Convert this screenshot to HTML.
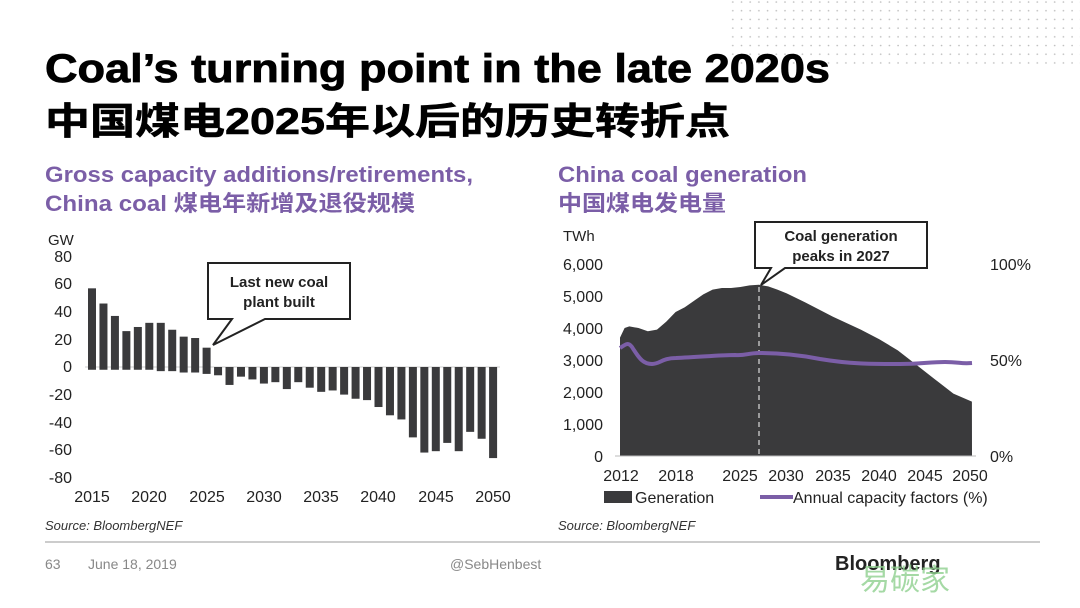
<!DOCTYPE html>
<html><head><meta charset="utf-8"><style>
body{margin:0;background:#fff;}
svg{display:block;}
text{font-family:"Liberation Sans","Noto Sans CJK SC",sans-serif;}
</style></head><body>
<svg width="1080" height="608" viewBox="0 0 1080 608" xmlns="http://www.w3.org/2000/svg">
<defs><pattern id="dots" width="8.7" height="8.7" patternUnits="userSpaceOnUse"><circle cx="2" cy="2" r="0.8" fill="#bbb"/></pattern></defs>
<rect x="728" y="0" width="352" height="64" fill="url(#dots)"/>
<text x="45" y="82" font-size="40" font-weight="bold" fill="#000" stroke="#000" stroke-width="0.8" textLength="785" lengthAdjust="spacingAndGlyphs">Coal’s turning point in the late 2020s</text>
<text x="45" y="134" font-size="37" font-weight="bold" fill="#000" stroke="#000" stroke-width="0.6" textLength="685" lengthAdjust="spacingAndGlyphs">中国煤电2025年以后的历史转折点</text>
<g font-size="22" font-weight="bold" fill="#7b5ea7">
<text x="45" y="182" textLength="428" lengthAdjust="spacingAndGlyphs">Gross capacity additions/retirements,</text>
<text x="45" y="211" textLength="370" lengthAdjust="spacingAndGlyphs">China coal 煤电年新增及退役规模</text>
<text x="558" y="182" textLength="249" lengthAdjust="spacingAndGlyphs">China coal generation</text>
<text x="558" y="211" textLength="168" lengthAdjust="spacingAndGlyphs">中国煤电发电量</text>
</g>
<!-- Left chart -->
<g font-size="16" fill="#222">
<text x="48" y="245" font-size="15">GW</text>
<g text-anchor="end">
<text x="72" y="262">80</text><text x="72" y="289">60</text><text x="72" y="317">40</text><text x="72" y="345">20</text><text x="72" y="372">0</text><text x="72" y="400">-20</text><text x="72" y="428">-40</text><text x="72" y="455">-60</text><text x="72" y="483">-80</text>
</g>
<g text-anchor="middle">
<text x="92" y="502">2015</text><text x="149" y="502">2020</text><text x="207" y="502">2025</text><text x="264" y="502">2030</text><text x="321" y="502">2035</text><text x="378" y="502">2040</text><text x="436" y="502">2045</text><text x="493" y="502">2050</text>
</g>
</g>
<line x1="85" y1="367" x2="500" y2="367" stroke="#ccc" stroke-width="1"/>
<g id="bars" fill="#3a3a3c"></g>
<path d="M208,263 H350 V319 H265 L213,345 L232,319 H208 Z" fill="#fff" stroke="#222" stroke-width="2"/>
<text x="279" y="287" font-size="15" font-weight="bold" text-anchor="middle" fill="#222">Last new coal</text>
<text x="279" y="307" font-size="15" font-weight="bold" text-anchor="middle" fill="#222">plant built</text>
<text x="45" y="530" font-size="13" font-style="italic" fill="#333">Source: BloombergNEF</text>
<!-- Right chart -->
<g font-size="16" fill="#222">
<text x="563" y="241" font-size="15">TWh</text>
<g text-anchor="end">
<text x="603" y="270">6,000</text><text x="603" y="302">5,000</text><text x="603" y="334">4,000</text><text x="603" y="366">3,000</text><text x="603" y="398">2,000</text><text x="603" y="430">1,000</text><text x="603" y="462">0</text>
</g>
<text x="990" y="270">100%</text><text x="990" y="366">50%</text><text x="990" y="462">0%</text>
<g text-anchor="middle">
<text x="621" y="481">2012</text><text x="676" y="481">2018</text><text x="740" y="481">2025</text><text x="786" y="481">2030</text><text x="833" y="481">2035</text><text x="879" y="481">2040</text><text x="925" y="481">2045</text><text x="970" y="481">2050</text>
</g>
</g>
<path id="area" fill="#3a3a3c"/>
<line x1="615" y1="456" x2="976" y2="456" stroke="#bbb"/>
<line x1="759" y1="287" x2="759" y2="456" stroke="#bbb" stroke-width="1.5" stroke-dasharray="5,4"/>
<path d="M620,348 C626,344 628,342 632,347 C640,360 644,364 652,364 C660,364 662,358 676,358 C700,357 720,355 735,355 C745,356 748,353 759,353 C780,353 800,355 820,359 C850,364 870,364 900,364 C920,364 930,362 945,362 C960,362 960,364 972,363" fill="none" stroke="#7b5ea7" stroke-width="4"/>
<path d="M755,222 H927 V268 H785 L761,285 L771,268 H755 Z" fill="#fff" stroke="#222" stroke-width="2"/>
<text x="841" y="241" font-size="15" font-weight="bold" text-anchor="middle" fill="#222">Coal generation</text>
<text x="841" y="261" font-size="15" font-weight="bold" text-anchor="middle" fill="#222">peaks in 2027</text>
<rect x="604" y="491" width="28" height="12" fill="#3a3a3c"/>
<text x="635" y="503" font-size="16" fill="#222">Generation</text>
<line x1="760" y1="497" x2="793" y2="497" stroke="#7b5ea7" stroke-width="4"/>
<text x="793" y="503" font-size="16" fill="#222">Annual capacity factors (%)</text>
<text x="558" y="530" font-size="13" font-style="italic" fill="#333">Source: BloombergNEF</text>
<!-- footer -->
<line x1="45" y1="542" x2="1040" y2="542" stroke="#999" stroke-width="1"/>
<g font-size="14" fill="#888">
<text x="45" y="569">63</text>
<text x="88" y="569">June 18, 2019</text>
<text x="450" y="569">@SebHenbest</text>
</g>
<text x="835" y="570" font-size="20" font-weight="bold" fill="#222">Bloomberg</text>
<text x="860" y="590" font-size="30" fill="#8fd08f" opacity="0.8">易碳家</text>
</svg>
<script>
var vals=[57,46,37,26,29,32,32,27,22,21,14,-6,-13,-7,-9,-12,-11,-16,-11,-15,-18,-17,-20,-23,-24,-29,-35,-38,-51,-62,-61,-55,-61,-47,-52,-66];
var neg=[-2,-2,-2,-2,-2,-2,-3,-3,-4,-4,-5];
var g=document.getElementById('bars'),s='';
var z=367,k=1.38;
for(var i=0;i<vals.length;i++){var cx=92+i*11.46,v=vals[i];
if(v>0){s+='<rect x="'+(cx-4)+'" y="'+(z-v*k)+'" width="8" height="'+(v*k)+'"/>';s+='<rect x="'+(cx-4)+'" y="'+z+'" width="8" height="'+(-neg[i]*k)+'"/>';}
else s+='<rect x="'+(cx-4)+'" y="'+z+'" width="8" height="'+(-v*k)+'"/>';}
g.innerHTML=s;
var gen=[[2012,3700],[2012.5,4000],[2013,4050],[2014,4000],[2015,3900],[2016,3950],[2017,4200],[2018,4500],[2019,4650],[2020,4850],[2021,5050],[2022,5200],[2023,5250],[2024,5250],[2025,5280],[2026,5330],[2027,5350],[2028,5300],[2029,5200],[2030,5080],[2032,4800],[2035,4350],[2038,3950],[2040,3650],[2042,3300],[2044,2850],[2046,2400],[2048,1950],[2050,1700]];
var d='M620,456';
gen.forEach(function(p){d+=' L'+(620+(p[0]-2012)*9.26).toFixed(1)+','+(456-p[1]*0.032).toFixed(1);});
d+=' L972,456 Z';
document.getElementById('area').setAttribute('d',d);
</script>
</body></html>
